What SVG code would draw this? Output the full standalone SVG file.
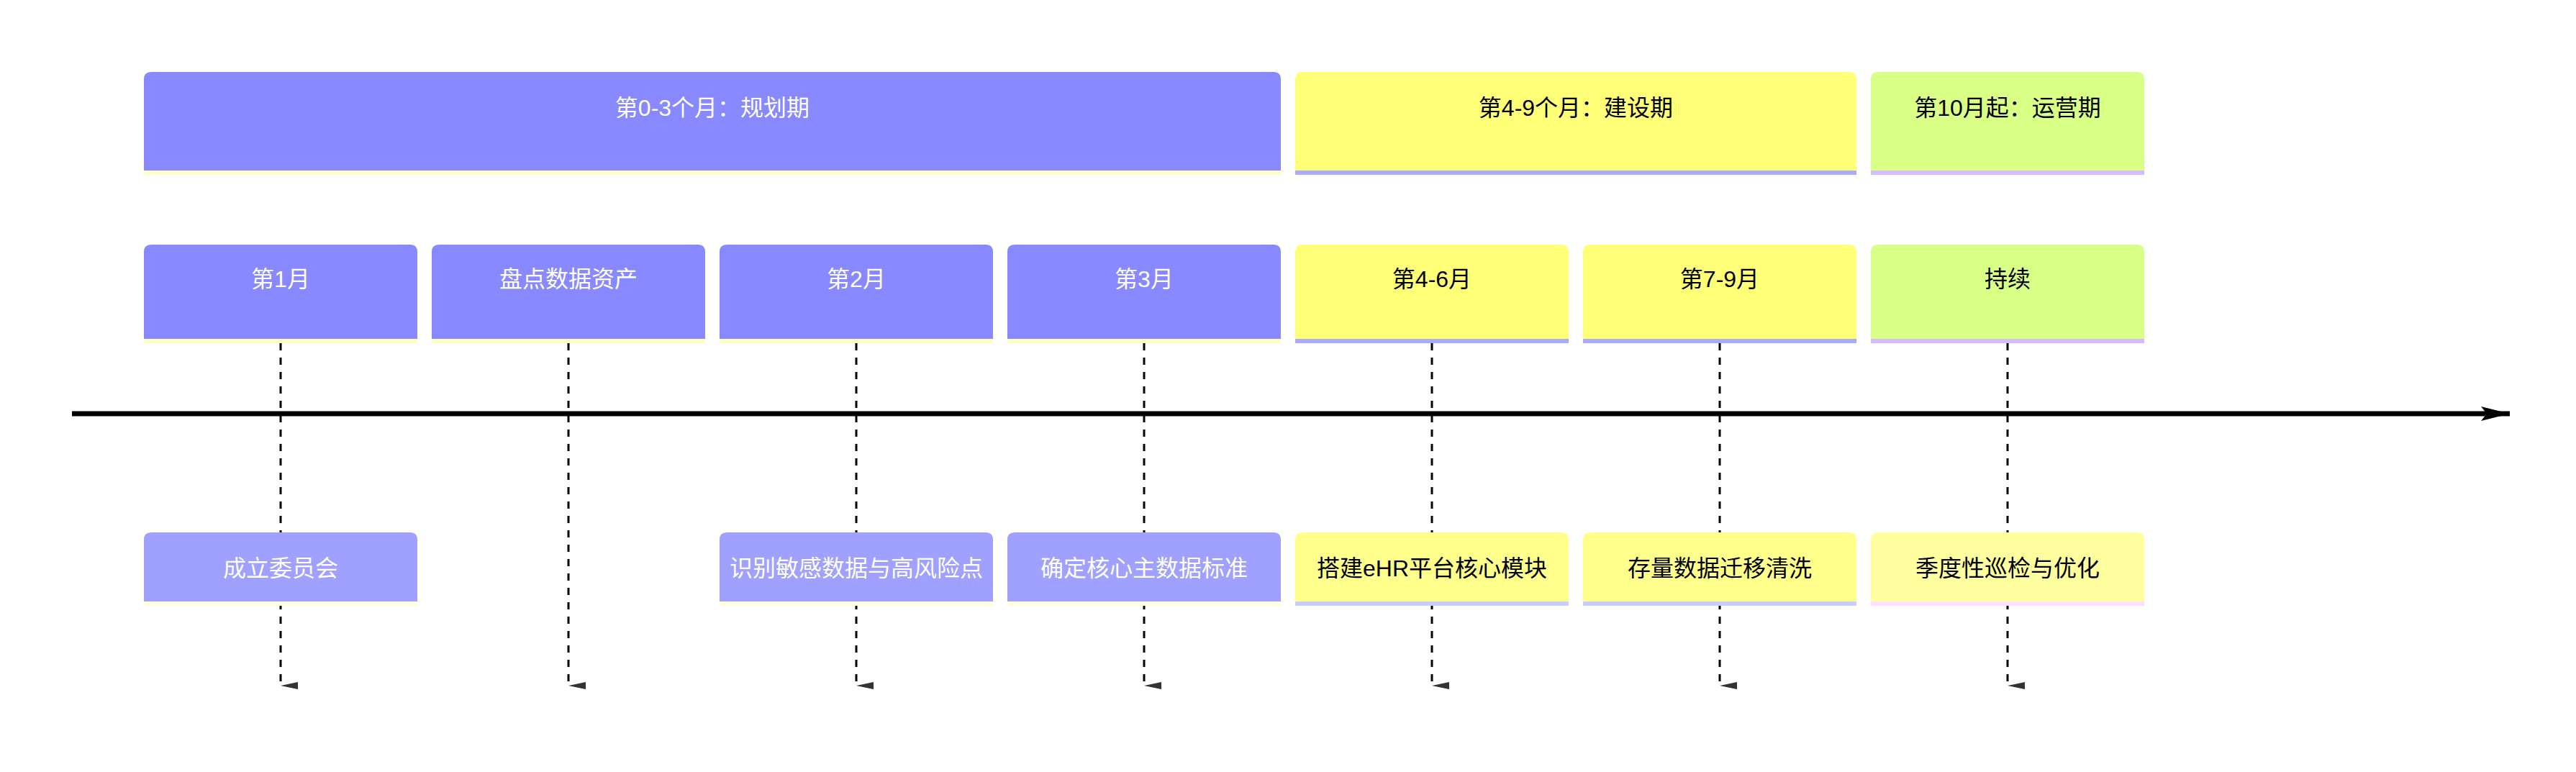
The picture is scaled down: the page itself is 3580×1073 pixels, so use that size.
<svg xmlns="http://www.w3.org/2000/svg" width="3580" height="1073" viewBox="0 0 3580 1073">
<defs>
<style>
text{font-family:"Liberation Sans","Noto Sans CJK SC",sans-serif;font-size:32px;text-anchor:middle}
.w{fill:#ffffff}.k{fill:#000000}
.dash{stroke:#000;stroke-width:3;stroke-dasharray:10 10;fill:none}
</style>
<marker id="ah" viewBox="0 0 10 24" refX="5" refY="24" markerWidth="10" markerHeight="24" markerUnits="userSpaceOnUse" orient="auto-start-reverse">
<path d="M0,0 L10,0 L5,24 Z" fill="#333"/>
</marker>
<marker id="big" viewBox="0 0 40 20" refX="40" refY="10" markerWidth="40" markerHeight="20" markerUnits="userSpaceOnUse" orient="auto">
<path d="M0,0 L40,10 L0,20 L8,10 Z" fill="#000"/>
</marker>
</defs>
<rect width="3580" height="1073" fill="#fff"/>
<g id="connectors">
<line x1="100" y1="575" x2="3488" y2="575" stroke="#000" stroke-width="7" marker-end="url(#big)"/>
<line class="dash" x1="390" y1="477" x2="390" y2="953" marker-end="url(#ah)"/>
<line class="dash" x1="790" y1="477" x2="790" y2="953" marker-end="url(#ah)"/>
<line class="dash" x1="1190" y1="477" x2="1190" y2="953" marker-end="url(#ah)"/>
<line class="dash" x1="1590" y1="477" x2="1590" y2="953" marker-end="url(#ah)"/>
<line class="dash" x1="1990" y1="477" x2="1990" y2="953" marker-end="url(#ah)"/>
<line class="dash" x1="2390" y1="477" x2="2390" y2="953" marker-end="url(#ah)"/>
<line class="dash" x1="2790" y1="477" x2="2790" y2="953" marker-end="url(#ah)"/>
</g>
<g id="sec1"><rect x="200" y="237" width="1580" height="6" fill="#ffffc4"/><path d="M200,237 V110 Q200,100 210,100 H1770 Q1780,100 1780,110 V237 Z" fill="#8888ff"/><text class="w" x="990" y="161">第0-3个月：规划期</text></g>
<g id="sec2"><rect x="1800" y="237" width="780" height="6" fill="#aaaaff"/><path d="M1800,237 V110 Q1800,100 1810,100 H2570 Q2580,100 2580,110 V237 Z" fill="#ffff78"/><text class="k" x="2190" y="161">第4-9个月：建设期</text></g>
<g id="sec3"><rect x="2600" y="237" width="380" height="6" fill="#d5bbff"/><path d="M2600,237 V110 Q2600,100 2610,100 H2970 Q2980,100 2980,110 V237 Z" fill="#d9ff87"/><text class="k" x="2790" y="161">第10月起：运营期</text></g>

<g id="p1"><rect x="200" y="471" width="380" height="6" fill="#ffffc4"/><path d="M200,471 V350 Q200,340 210,340 H570 Q580,340 580,350 V471 Z" fill="#8888ff"/><text class="w" x="390" y="399">第1月</text></g>
<g id="p2"><rect x="600" y="471" width="380" height="6" fill="#ffffc4"/><path d="M600,471 V350 Q600,340 610,340 H970 Q980,340 980,350 V471 Z" fill="#8888ff"/><text class="w" x="790" y="399">盘点数据资产</text></g>
<g id="p3"><rect x="1000" y="471" width="380" height="6" fill="#ffffc4"/><path d="M1000,471 V350 Q1000,340 1010,340 H1370 Q1380,340 1380,350 V471 Z" fill="#8888ff"/><text class="w" x="1190" y="399">第2月</text></g>
<g id="p4"><rect x="1400" y="471" width="380" height="6" fill="#ffffc4"/><path d="M1400,471 V350 Q1400,340 1410,340 H1770 Q1780,340 1780,350 V471 Z" fill="#8888ff"/><text class="w" x="1590" y="399">第3月</text></g>
<g id="p5"><rect x="1800" y="471" width="380" height="6" fill="#aaaaff"/><path d="M1800,471 V350 Q1800,340 1810,340 H2170 Q2180,340 2180,350 V471 Z" fill="#ffff78"/><text class="k" x="1990" y="399">第4-6月</text></g>
<g id="p6"><rect x="2200" y="471" width="380" height="6" fill="#aaaaff"/><path d="M2200,471 V350 Q2200,340 2210,340 H2570 Q2580,340 2580,350 V471 Z" fill="#ffff78"/><text class="k" x="2390" y="399">第7-9月</text></g>
<g id="p7"><rect x="2600" y="471" width="380" height="6" fill="#d5bbff"/><path d="M2600,471 V350 Q2600,340 2610,340 H2970 Q2980,340 2980,350 V471 Z" fill="#d9ff87"/><text class="k" x="2790" y="399">持续</text></g>

<g id="e1"><rect x="200" y="836" width="380" height="6" fill="#ffffde"/><path d="M200,836 V750 Q200,740 210,740 H570 Q580,740 580,750 V836 Z" fill="#a0a0ff"/><text class="w" x="390" y="801">成立委员会</text></g>
<g id="e3"><rect x="1000" y="836" width="380" height="6" fill="#ffffde"/><path d="M1000,836 V750 Q1000,740 1010,740 H1370 Q1380,740 1380,750 V836 Z" fill="#a0a0ff"/><text class="w" x="1190" y="801">识别敏感数据与高风险点</text></g>
<g id="e4"><rect x="1400" y="836" width="380" height="6" fill="#ffffde"/><path d="M1400,836 V750 Q1400,740 1410,740 H1770 Q1780,740 1780,750 V836 Z" fill="#a0a0ff"/><text class="w" x="1590" y="801">确定核心主数据标准</text></g>
<g id="e5"><rect x="1800" y="836" width="380" height="6" fill="#ccccff"/><path d="M1800,836 V750 Q1800,740 1810,740 H2170 Q2180,740 2180,750 V836 Z" fill="#ffff8c"/><text class="k" x="1990" y="801">搭建eHR平台核心模块</text></g>
<g id="e6"><rect x="2200" y="836" width="380" height="6" fill="#ccccff"/><path d="M2200,836 V750 Q2200,740 2210,740 H2570 Q2580,740 2580,750 V836 Z" fill="#ffff8c"/><text class="k" x="2390" y="801">存量数据迁移清洗</text></g>
<g id="e7"><rect x="2600" y="836" width="380" height="6" fill="#fbdfff"/><path d="M2600,836 V750 Q2600,740 2610,740 H2970 Q2980,740 2980,750 V836 Z" fill="#ffffa0"/><text class="k" x="2790" y="801">季度性巡检与优化</text></g>
</svg>
